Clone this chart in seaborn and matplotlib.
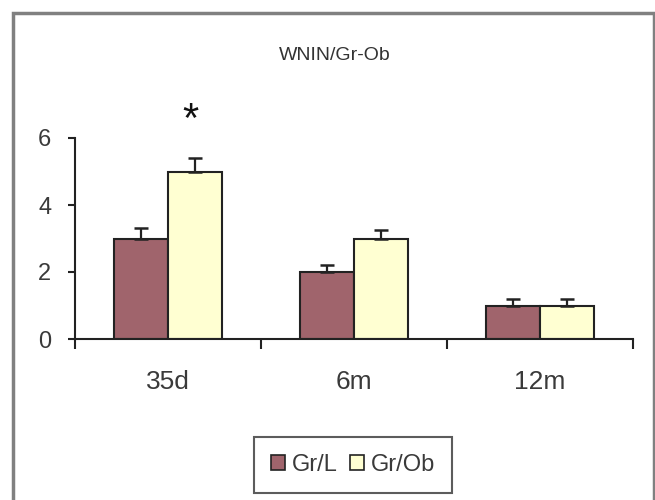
import matplotlib
matplotlib.use("Agg")
import matplotlib.pyplot as plt
import seaborn as sns
import pandas as pd
import numpy as np
from matplotlib.patches import Rectangle, Patch

# Ages and group labels
ages = ["35d", "6m", "12m"]
groups = ["Gr/L", "Gr/Ob"]

# Mean values and upper error (SEM) per group, by age
lean_means = [3.0, 2.0, 1.0]
obese_means = [5.0, 3.0, 1.0]
lean_err = [0.3, 0.2, 0.2]
obese_err = [0.4, 0.25, 0.2]

colors = {"Gr/L": "#A0646C", "Gr/Ob": "#FFFFD2"}

df = pd.DataFrame({
    "age": ages * 2,
    "group": [groups[0]] * 3 + [groups[1]] * 3,
    "value": lean_means + obese_means,
    "err": lean_err + obese_err,
})

sns.set_theme(style="white")
plt.rcParams["font.family"] = ["Liberation Sans", "DejaVu Sans"]

fig = plt.figure(figsize=(6.55, 5.0), dpi=100)
ax = fig.add_axes([75 / 655, 1 - 339 / 500, (633 - 75) / 655, (339 - 138) / 500])

sns.barplot(data=df, x="age", y="value", hue="group", order=ages,
            hue_order=groups, palette=colors, saturation=1, width=0.58,
            errorbar=None, edgecolor="#222222", linewidth=1.5, legend=False,
            ax=ax)

# One-sided (upper) error bars placed on the drawn bars
for container, g in zip(ax.containers, groups):
    sub = df[df["group"] == g].set_index("age").loc[ages]
    xs = [b.get_x() + b.get_width() / 2 for b in container]
    hs = [b.get_height() for b in container]
    err = sub["err"].to_numpy()
    ax.errorbar(xs, hs, yerr=[np.zeros_like(err), err], fmt="none",
                ecolor="#222222", elinewidth=1.6, capsize=5, capthick=1.8)

ax.set_xlim(-0.5, 2.5)
ax.set_ylim(0, 6)
ax.set_yticks([0, 2, 4, 6])
ax.set_xlabel("")
ax.set_ylabel("")
for s in ["top", "right"]:
    ax.spines[s].set_visible(False)
for s in ["left", "bottom"]:
    ax.spines[s].set_color("#222222")
    ax.spines[s].set_linewidth(1.5)

ax.tick_params(axis="y", direction="out", length=5, width=1.5,
               color="#222222", labelsize=17, labelcolor="#3a3a3a", pad=12,
               left=True)
ax.tick_params(axis="x", which="major", length=0, labelsize=19,
               labelcolor="#3a3a3a", pad=22)
ax.set_xticks([-0.5, 0.5, 1.5, 2.5], minor=True)
ax.tick_params(axis="x", which="minor", direction="out", length=7,
               width=1.5, color="#222222", bottom=True)

# Significance marker
ax.text(0.12, 6.5, "*", ha="center", va="center", fontsize=30,
        color="#111111", clip_on=False)

fig.text(335 / 655, 1 - 55 / 500, "WNIN/Gr-Ob", ha="center", va="center",
         fontsize=14, color="#333333")

handles = [Patch(facecolor=colors[g], edgecolor="#222222", linewidth=1.2,
                 label=g) for g in groups]
leg = fig.legend(handles=handles, loc="center", ncol=2,
                 bbox_to_anchor=(353 / 655, 1 - 465 / 500), frameon=True,
                 fontsize=17, handlelength=0.6, handleheight=0.6,
                 handletextpad=0.3, columnspacing=0.5, borderpad=0.7,
                 fancybox=False)
leg.get_frame().set_edgecolor("#333333")
leg.get_frame().set_linewidth(1.5)
for t in leg.get_texts():
    t.set_color("#3a3a3a")

# Outer chart border
fig.patches.append(Rectangle((13 / 655, -0.05), (654 - 13) / 655,
                             1 - 13 / 500 + 0.05, transform=fig.transFigure,
                             fill=False, edgecolor="#808080", linewidth=2.5))

fig.savefig("out.png", dpi=100)
